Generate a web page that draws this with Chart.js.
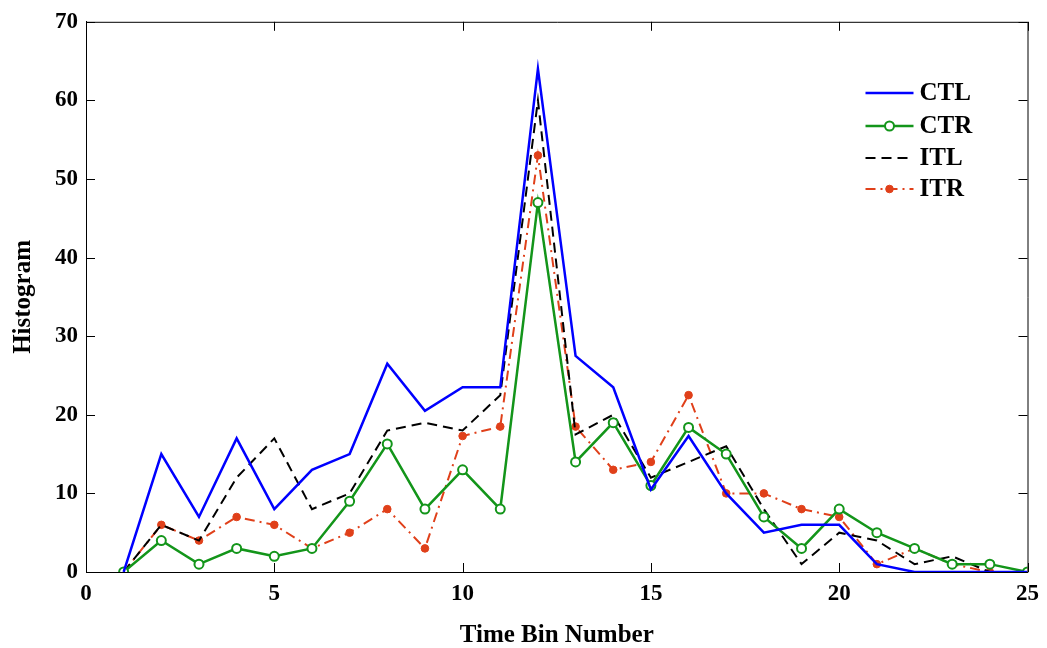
<!DOCTYPE html>
<html>
<head>
<meta charset="utf-8">
<title>Histogram</title>
<script src="https://cdn.jsdelivr.net/npm/chart.js@4/dist/chart.umd.min.js"></script>
<style>
  html, body { margin: 0; padding: 0; background: #fff; }
  canvas { display: block; }
</style>
</head>
<body>
<canvas id="chart" width="1047" height="648"></canvas>
<script>
// Datos
const bins = [1, 2, 3, 4, 5, 6, 7, 8, 9, 10, 11, 12, 13, 14, 15, 16, 17, 18, 19, 20, 21, 22, 23, 24, 25];
const ctl = [0, 15, 7, 17, 8, 13, 15, 26.5, 20.5, 23.5, 23.5, 64, 27.5, 23.5, 10.5, 17.3, 10, 5, 6, 6, 1, 0, 0, 0, 0];
const ctr = [0, 4, 1, 3, 2, 3, 9, 16.3, 8, 13, 8, 47, 14, 19, 11, 18.4, 15, 7, 3, 8, 5, 3, 1, 1, 0];
const itl = [0, 6, 4, 12, 17, 8, 10, 18, 19, 18, 22.5, 60, 17.5, 20, 12, 14, 16, 8, 1, 5, 4, 1, 2, 0, 0];
const itr = [0, 6, 4, 7, 6, 3, 5, 8, 3, 17.3, 18.5, 53, 18.5, 13, 14, 22.5, 10, 10, 8, 7, 1, 3, 1, 0, 0];
const xTicks = [0, 5, 10, 15, 20, 25];
const yTicks = [0, 10, 20, 30, 40, 50, 60, 70];

const FONT = 'Liberation Serif, Times New Roman, serif';

/**
 * Une bins y valores en puntos {x, y}
 * @param {number[]} values
 */
const toPoints = values => values.map((v, i) => ({ x: bins[i], y: v }));

/**
 * Marcas de eje hacia dentro y caja completa (estilo MATLAB)
 */
const boxTicks = {
  id: 'boxTicks',
  afterDraw(chart) {
    const { ctx, chartArea: a, scales } = chart;
    const len = 9;
    ctx.save();
    ctx.strokeStyle = '#000';
    ctx.lineWidth = 1;
    ctx.beginPath();
    ctx.rect(a.left + 0.5, a.top + 0.5, a.right - a.left, a.bottom - a.top);
    xTicks.forEach(t => {
      const px = Math.round(scales.x.getPixelForValue(t)) + 0.5;
      ctx.moveTo(px, a.bottom); ctx.lineTo(px, a.bottom - len);
      ctx.moveTo(px, a.top); ctx.lineTo(px, a.top + len);
    });
    yTicks.forEach(t => {
      const py = Math.round(scales.y.getPixelForValue(t)) + 0.5;
      ctx.moveTo(a.left, py); ctx.lineTo(a.left + len, py);
      ctx.moveTo(a.right, py); ctx.lineTo(a.right - len, py);
    });
    ctx.stroke();
    ctx.restore();
  }
};

/**
 * Leyenda dibujada dentro del area del grafico
 */
const insideLegend = {
  id: 'insideLegend',
  afterDraw(chart) {
    const { ctx, chartArea: a } = chart;
    const x1 = a.right - 162;
    const x2 = a.right - 114;
    const rowY = [93, 126, 158, 189];
    ctx.save();
    ctx.font = `bold 25px ${FONT}`;
    ctx.textBaseline = 'middle';
    chart.data.datasets.forEach((ds, i) => {
      const y = rowY[i];
      ctx.strokeStyle = ds.borderColor;
      ctx.lineWidth = ds.borderWidth;
      ctx.setLineDash(ds.borderDash || []);
      ctx.beginPath();
      ctx.moveTo(x1, y);
      ctx.lineTo(x2, y);
      ctx.stroke();
      ctx.setLineDash([]);
      const mx = (x1 + x2) / 2;
      if (ds.pointRadius > 0) {
        ctx.beginPath();
        ctx.arc(mx, y, ds.pointRadius, 0, Math.PI * 2);
        ctx.fillStyle = ds.pointBackgroundColor;
        ctx.fill();
        ctx.lineWidth = ds.pointBorderWidth;
        ctx.strokeStyle = ds.pointBorderColor;
        ctx.stroke();
      }
      ctx.fillStyle = '#000';
      ctx.fillText(ds.label, x2 + 6, y + 1);
    });
    ctx.restore();
  }
};

const canvas = document.getElementById('chart');

new Chart(canvas.getContext('2d'), {
  type: 'line',
  data: {
    datasets: [
      {
        label: 'CTL',
        data: toPoints(ctl),
        borderColor: '#0000ff',
        borderWidth: 2.5,
        pointRadius: 0,
        tension: 0
      },
      {
        label: 'CTR',
        data: toPoints(ctr),
        borderColor: '#13951a',
        borderWidth: 2.5,
        pointRadius: 4.5,
        pointBackgroundColor: '#ffffff',
        pointBorderColor: '#13951a',
        pointBorderWidth: 2,
        tension: 0
      },
      {
        label: 'ITL',
        data: toPoints(itl),
        borderColor: '#000000',
        borderWidth: 2,
        borderDash: [10, 6],
        pointRadius: 0,
        tension: 0
      },
      {
        label: 'ITR',
        data: toPoints(itr),
        borderColor: '#e0401a',
        borderWidth: 2,
        borderDash: [10, 5, 2, 5],
        pointRadius: 3.8,
        pointBackgroundColor: '#e0401a',
        pointBorderColor: '#e0401a',
        pointBorderWidth: 1,
        tension: 0
      }
    ]
  },
  options: {
    responsive: false,
    animation: false,
    layout: { padding: { top: 17, right: 17, left: 0, bottom: 0 } },
    plugins: {
      legend: { display: false },
      tooltip: { enabled: false }
    },
    scales: {
      x: {
        type: 'linear',
        min: 0,
        max: 25,
        afterFit: scale => { scale.height = 76; },
        afterBuildTicks: scale => { scale.ticks = xTicks.map(v => ({ value: v })); },
        grid: { display: false, drawTicks: false },
        border: { display: true, color: '#000', width: 1 },
        ticks: {
          color: '#000',
          padding: 8,
          maxRotation: 0,
          font: { family: FONT, size: 23, weight: 'bold' }
        },
        title: {
          display: true,
          text: 'Time Bin Number',
          color: '#000',
          padding: { top: 0, bottom: -3 },
          font: { family: FONT, size: 25, weight: 'bold' }
        }
      },
      y: {
        min: 0,
        max: 70,
        afterFit: scale => { scale.width = 86; },
        afterBuildTicks: scale => { scale.ticks = yTicks.map(v => ({ value: v })); },
        grid: { display: false, drawTicks: false },
        border: { display: true, color: '#000', width: 1 },
        ticks: {
          color: '#000',
          padding: 8,
          font: { family: FONT, size: 23, weight: 'bold' }
        },
        title: {
          display: true,
          text: 'Histogram',
          color: '#000',
          padding: { top: 9, bottom: 0 },
          font: { family: FONT, size: 25, weight: 'bold' }
        }
      }
    }
  },
  plugins: [boxTicks, insideLegend]
});
</script>
</body>
</html>
